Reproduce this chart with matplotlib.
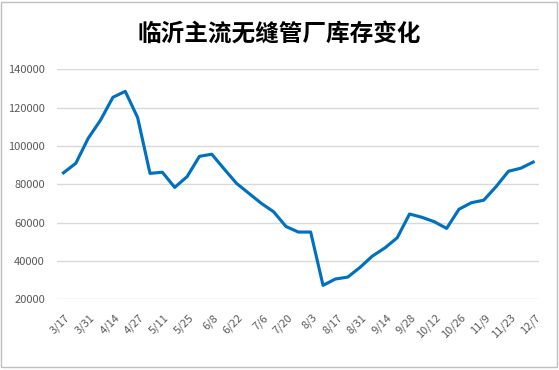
import matplotlib
matplotlib.use('Agg')
import matplotlib.pyplot as plt
import matplotlib.transforms as mtransforms
from matplotlib.patches import Rectangle

plt.rcParams['font.family'] = ['Noto Sans CJK SC', 'DejaVu Sans']

# weekly inventory, 3/17 .. 12/7 (labels shown every two weeks)
dates = ['3/17', '3/24', '3/31', '4/7', '4/14', '4/20', '4/27', '5/4', '5/11', '5/18',
         '5/25', '6/1', '6/8', '6/15', '6/22', '6/29', '7/6', '7/13', '7/20', '7/27',
         '8/3', '8/10', '8/17', '8/24', '8/31', '9/7', '9/14', '9/21', '9/28', '10/5',
         '10/12', '10/19', '10/26', '11/2', '11/9', '11/16', '11/23', '11/30', '12/7']
inventory = [86000, 91000, 104000, 113500, 125400, 128500, 114800, 85700, 86300, 78400,
             84000, 94600, 95700, 88000, 80500, 75300, 70100, 65700, 58000, 55100,
             55100, 27300, 30600, 31600, 36700, 42600, 46800, 52100, 64500, 62800,
             60500, 57000, 67000, 70400, 71700, 78800, 86800, 88400, 91600]
yticks = [20000, 40000, 60000, 80000, 100000, 120000, 140000]
title = '临沂主流无缝管厂库存变化'

fig = plt.figure(figsize=(5.59, 3.70), dpi=100)
ax = fig.add_axes([0.1025, 0.191, 0.8623, 0.6217])

x = list(range(len(dates)))
ax.plot(x, inventory, color='#0070C0', linewidth=2.25, solid_joinstyle='round')

ax.set_xlim(-0.5, len(dates) - 0.5)
ax.set_ylim(20000, 140000)
ax.set_yticks(yticks)
ax.set_yticklabels([str(v) for v in yticks])
ax.set_xticks(x[::2])
ax.set_xticklabels(dates[::2], rotation=45, ha='right', va='center',
                   rotation_mode='anchor')

ax.grid(axis='y', color='#D9D9D9', linewidth=1)
ax.set_axisbelow(True)
for s in ax.spines.values():
    s.set_visible(False)
ax.tick_params(axis='both', length=0, labelsize=8, labelcolor='#595959')
ax.tick_params(axis='y', pad=9)
ax.tick_params(axis='x', pad=12)

offset = mtransforms.ScaledTranslation(5 / 100, 0, fig.dpi_scale_trans)
for lab in ax.get_xticklabels():
    lab.set_transform(lab.get_transform() + offset)

fig.text(0.5, 0.91, title, ha='center', va='center', fontsize=17,
         fontweight='bold', color='black')

fig.patches.append(Rectangle((1.5 / 559, 3 / 370), 555 / 559, 365.5 / 370,
                             transform=fig.transFigure, fill=False,
                             edgecolor='#BFBFBF', linewidth=1))

fig.savefig('out.png', dpi=100)
